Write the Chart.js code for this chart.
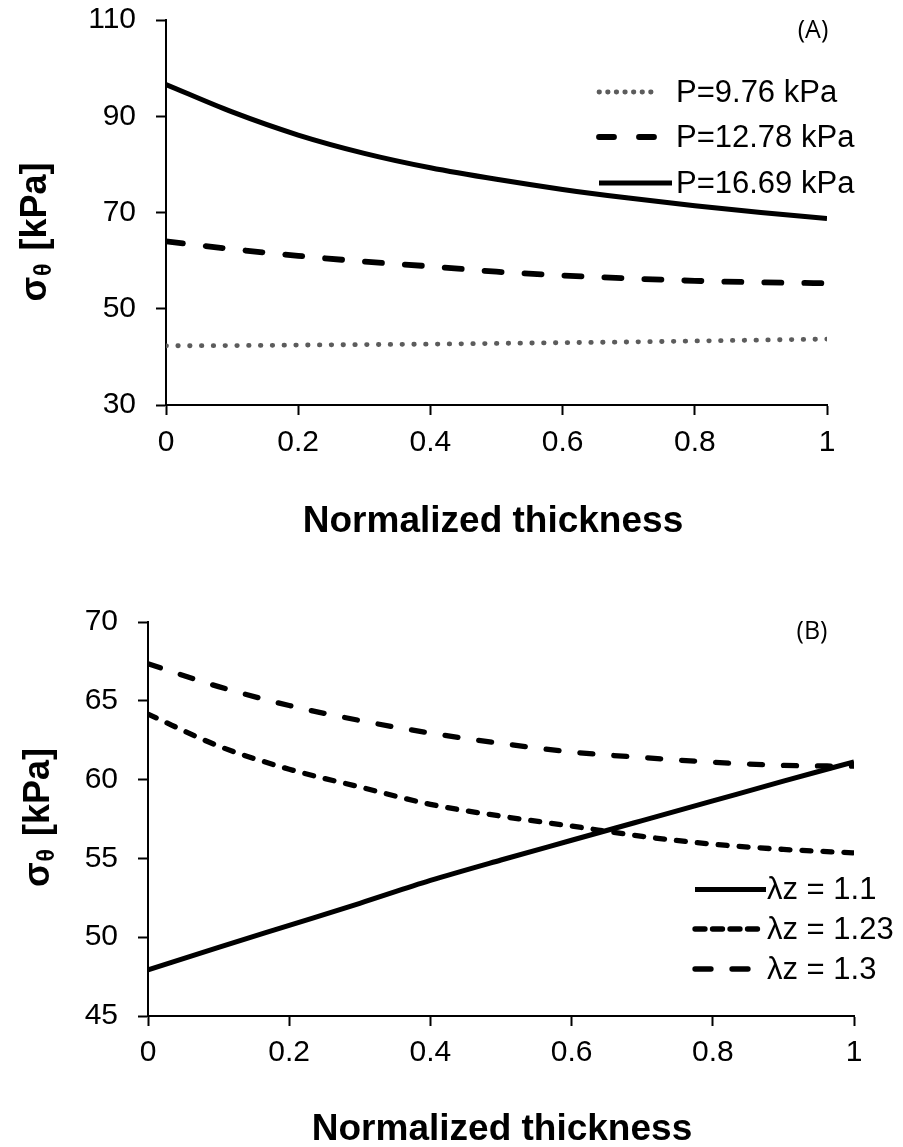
<!DOCTYPE html>
<html><head><meta charset="utf-8">
<script src="https://cdn.jsdelivr.net/npm/chart.js@4"></script>
<style>
html,body{margin:0;padding:0;background:#fff;width:903px;height:1147px;overflow:hidden}
.box{position:absolute;left:0;width:903px}
#boxA{top:0;height:570px}
#boxB{top:570px;height:577px}
canvas{display:block}
</style></head><body>
<div class="box" id="boxA"><canvas id="chartA" width="903" height="570"></canvas></div>
<div class="box" id="boxB"><canvas id="chartB" width="903" height="577"></canvas></div>
<script>
// ---- data ----
const thickness   = [0, 0.1, 0.2, 0.3, 0.4, 0.5, 0.6, 0.7, 0.8, 0.9, 1];
const sigmaP976   = [42.3, 42.35, 42.45, 42.55, 42.65, 42.8, 42.95, 43.1, 43.3, 43.5, 43.7];
const sigmaP1278  = [64.0, 62.4, 61.0, 59.8, 58.8, 57.7, 56.9, 56.3, 55.8, 55.5, 55.3];
const sigmaP1669  = [96.6, 90.9, 86.1, 82.3, 79.3, 76.9, 74.8, 73.0, 71.4, 70.0, 68.75];
const sigmaLz110  = [47.92, 49.35, 50.75, 52.15, 53.6, 54.9, 56.15, 57.4, 58.65, 59.9, 61.13];
const sigmaLz123  = [64.16, 62.13, 60.66, 59.53, 58.43, 57.68, 57.05, 56.4, 55.9, 55.57, 55.35];
const sigmaLz130  = [67.35, 65.9, 64.7, 63.75, 62.95, 62.3, 61.75, 61.4, 61.1, 60.9, 60.85];
const xTickValues  = [0, 0.2, 0.4, 0.6, 0.8, 1];
const yTickValuesA = [30, 50, 70, 90, 110];
const yTickValuesB = [45, 50, 55, 60, 65, 70];
const legendLabelsA = ['P=9.76 kPa', 'P=12.78 kPa', 'P=16.69 kPa'];
const legendLabelsB = ['λz = 1.1', 'λz = 1.23', 'λz = 1.3'];
const xTitle = 'Normalized thickness';

const pts = (ys) => thickness.map((x, i) => ({x: x, y: ys[i]}));

const decoPlugin = {
  id: 'deco',
  afterDraw(chart, args, o) {
    const ctx = chart.ctx;
    ctx.save();
    // panel label
    ctx.fillStyle = '#000';
    ctx.font = '25px "Open Sans"';
    ctx.textAlign = 'center';
    ctx.textBaseline = 'middle';
    ctx.fillText(o.panel, o.panelX, o.panelY);
    // legend
    chart.data.datasets.forEach((ds, i) => {
      const y = o.legendY[i];
      ctx.save();
      ctx.strokeStyle = ds.borderColor;
      ctx.lineWidth = ds.borderWidth;
      ctx.lineCap = ds.borderCapStyle || 'butt';
      ctx.setLineDash(ds.legendDash || []);
      ctx.beginPath();
      ctx.moveTo(o.legendX0, y);
      ctx.lineTo(o.legendX1[i], y);
      ctx.stroke();
      ctx.restore();
      ctx.fillStyle = '#000';
      ctx.font = '31px "Liberation Sans"';
      ctx.textAlign = 'left';
      ctx.textBaseline = 'middle';
      ctx.fillText(ds.label, o.legendTextX, y + 1);
    });
    // x title
    ctx.font = 'bold 37px "Liberation Sans"';
    ctx.textAlign = 'center';
    ctx.textBaseline = 'alphabetic';
    ctx.fillText(xTitle, o.xTitleX, o.xTitleY);
    // y title, rotated, with subscript theta
    ctx.translate(o.yTitleX, o.yTitleY);
    ctx.rotate(-Math.PI / 2);
    const fBig = 'bold 36px "Liberation Sans"', fSub = 'bold 23px "Liberation Sans"';
    ctx.font = fBig; const w1 = ctx.measureText('σ').width;
    const w3 = ctx.measureText(' [kPa]').width;
    ctx.font = fSub; const w2 = ctx.measureText('θ').width + 4;
    let x = -(w1 + w2 + w3) / 2;
    ctx.textAlign = 'left';
    ctx.font = fBig; ctx.fillText('σ', x, 0); x += w1;
    ctx.font = fSub; ctx.fillText('θ', x + 1, 5); x += w2;
    ctx.font = fBig; ctx.fillText(' [kPa]', x, 0);
    ctx.restore();
  }
};

function axisOpts(min, max, tickVals, isX, fitSize, pad) {
  return {
    type: 'linear', min: min, max: max,
    afterBuildTicks: (s) => { s.ticks = tickVals.map(v => ({value: v})); },
    afterFit: (s) => {
      if (isX) s.height = fitSize; else s.width = fitSize;
      s.paddingTop = 0; s.paddingBottom = 0; s.paddingLeft = 0; s.paddingRight = 0;
    },
    grid: {drawOnChartArea: false, drawTicks: true, tickLength: 10, tickWidth: 2, tickColor: '#000'},
    border: {display: true, color: '#000', width: 2},
    ticks: {color: '#000', padding: pad, font: {family: 'Liberation Sans', size: 30}, maxRotation: 0, autoSkip: false,
            callback: (v) => String(v)}
  };
}

function makeChart(id, datasets, yMin, yMax, yTicks, layoutPad, xFit, yFit, xPad, yPad, deco) {
  return new Chart(document.getElementById(id), {
    type: 'line',
    data: {datasets: datasets},
    options: {
      responsive: false, animation: false, devicePixelRatio: 1,
      layout: {padding: layoutPad},
      elements: {point: {radius: 0}, line: {cubicInterpolationMode: 'monotone'}},
      scales: {
        x: axisOpts(0, 1, xTickValues, true, xFit, xPad),
        y: axisOpts(yMin, yMax, yTicks, false, yFit, yPad)
      },
      plugins: {legend: {display: false}, tooltip: {enabled: false}, deco: deco}
    },
    plugins: [decoPlugin]
  });
}

makeChart('chartA', [
  {label: legendLabelsA[0], data: pts(sigmaP976), borderColor: '#5c5c5c', borderWidth: 4.8, borderCapStyle: 'round',
   borderDash: [0.5, 11.3], legendDash: [0.5, 8.1], fill: false},
  {label: legendLabelsA[1], data: pts(sigmaP1278), borderColor: '#000', borderWidth: 5.8, borderCapStyle: 'round',
   borderDash: [17, 23], legendDash: [15, 25], fill: false},
  {label: legendLabelsA[2], data: pts(sigmaP1669), borderColor: '#000', borderWidth: 5, borderCapStyle: 'butt',
   legendDash: [], fill: false}
], 30, 110, yTickValuesA, {left: 0, right: 76, top: 20, bottom: 65}, 100, 166, 10, 20,
{panel: '(A)', panelX: 813, panelY: 31,
 legendX0: 599, legendX1: [659, 660, 672], legendTextX: 676, legendY: [92, 137, 183],
 xTitleX: 493, xTitleY: 532, yTitleX: 46, yTitleY: 232});

makeChart('chartB', [
  {label: legendLabelsB[0], data: pts(sigmaLz110), borderColor: '#000', borderWidth: 5, borderCapStyle: 'butt',
   legendDash: [], fill: false},
  {label: legendLabelsB[1], data: pts(sigmaLz123), borderColor: '#000', borderWidth: 5.3, borderCapStyle: 'round',
   borderDash: [9, 12], legendDash: [10, 7.5], fill: false},
  {label: legendLabelsB[2], data: pts(sigmaLz130), borderColor: '#000', borderWidth: 5.3, borderCapStyle: 'round',
   borderDash: [13, 21], legendDash: [16, 21], fill: false}
], 45, 70, yTickValuesB, {left: 0, right: 49, top: 52, bottom: 31}, 100, 148, 9, 20,
{panel: '(B)', panelX: 812, panelY: 62,
 legendX0: 695, legendX1: [766, 762, 750], legendTextX: 767, legendY: [319.5, 359, 399],
 xTitleX: 502, xTitleY: 570, yTitleX: 49, yTitleY: 247.5});
</script>
</body></html>
